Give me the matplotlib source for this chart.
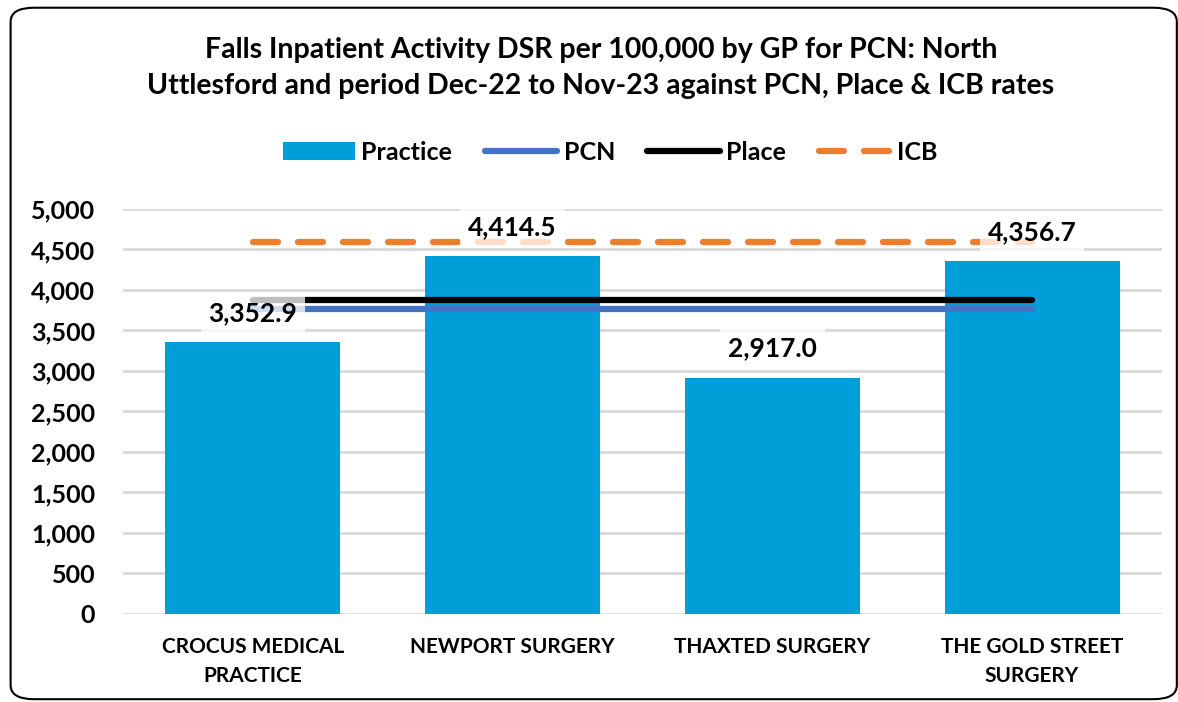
import matplotlib.pyplot as plt
from matplotlib.patches import FancyBboxPatch

practices = ['CROCUS MEDICAL\nPRACTICE', 'NEWPORT SURGERY', 'THAXTED SURGERY', 'THE GOLD STREET\nSURGERY']
practice_rate = [3352.9, 4414.5, 2917.0, 4356.7]
pcn_rate = [3765, 3765, 3765, 3765]
place_rate = [3877, 3877, 3877, 3877]
icb_rate = [4593, 4593, 4593, 4593]

plt.rcParams['font.family'] = ['Lato', 'DejaVu Sans']
plt.rcParams['font.weight'] = 'bold'

fig = plt.figure(figsize=(11.78, 7.02), dpi=100)
ax = fig.add_axes([0.1044, 0.1254, 0.882, 0.5769])

x = list(range(len(practices)))
bars = ax.bar(x, practice_rate, width=0.673, color='#009ED8', label='Practice', zorder=2)
l_pcn, = ax.plot(x, pcn_rate, color='#4472C4', lw=4.5, solid_capstyle='round', label='PCN', zorder=3)
l_place, = ax.plot(x, place_rate, color='black', lw=4.5, solid_capstyle='round', label='Place', zorder=3)
l_icb, = ax.plot(x, icb_rate, color='#ED7D31', lw=4.5, dashes=(4, 3.2), dash_capstyle='round', label='ICB', zorder=3)

for xi, v in zip(x, practice_rate):
    ax.annotate(f'{v:,.1f}', (xi, v), xytext=(0, 21), textcoords='offset points',
                ha='center', va='center', fontsize=19, fontweight='bold', zorder=5,
                bbox=dict(boxstyle='square,pad=0.3', fc='white', ec='none', alpha=0.75))

ax.set_xlim(-0.5, 3.5)
ax.set_ylim(0, 5000)
ax.set_yticks(range(0, 5001, 500))
ax.set_yticklabels([f'{t:,}' for t in range(0, 5001, 500)], fontsize=18, fontweight='bold')
ax.set_xticks(x)
ax.set_xticklabels(practices, fontsize=15, fontweight='bold', linespacing=1.6)
ax.tick_params(length=0)
ax.tick_params(axis='x', pad=16.5)
ax.tick_params(axis='y', pad=20)
ax.grid(axis='y', color='#D9D9D9', lw=2, zorder=0)
for s in ax.spines.values():
    s.set_visible(False)

fig.text(0.51, 0.903, 'Falls Inpatient Activity DSR per 100,000 by GP for PCN: North\n'
         'Uttlesford and period Dec-22 to Nov-23 against PCN, Place & ICB rates',
         ha='center', va='center', fontsize=20.5, fontweight='bold', linespacing=1.45)

fig.legend([bars, l_pcn, l_place, l_icb], ['Practice', 'PCN', 'Place', 'ICB'],
           loc='center', bbox_to_anchor=(0.518, 0.783), ncol=4, frameon=False,
           handlelength=2.9, handletextpad=0.25, columnspacing=1.3,
           prop={'weight': 'bold', 'size': 18})

border = FancyBboxPatch((0.009, 0.004), 0.99, 0.985, boxstyle='round,pad=0,rounding_size=0.02',
                        transform=fig.transFigure, fc='none', ec='black', lw=1.5)
fig.patches.append(border)

fig.savefig('out.png', dpi=100)
